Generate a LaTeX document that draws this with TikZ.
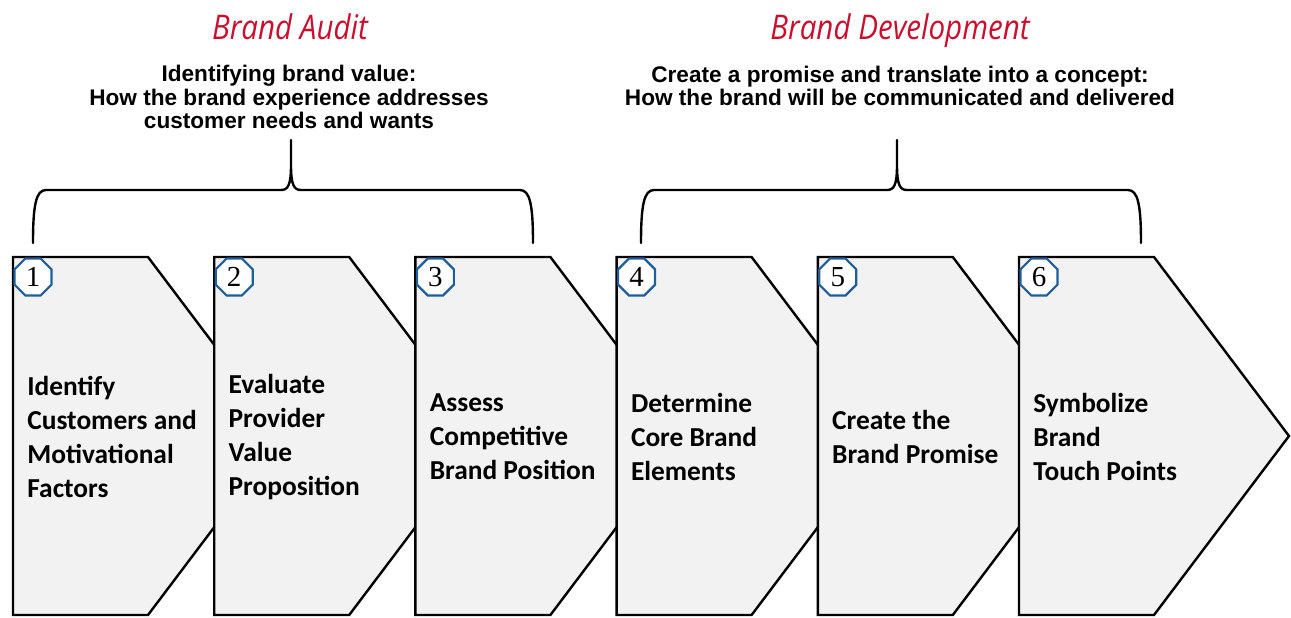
\documentclass[tikz,border=0pt]{standalone}
\usepackage{fontspec}
\setmainfont{Carlito}
\newfontfamily\phasefont[FakeStretch=0.87]{Open Sans}
\newfontfamily\notefont{Liberation Sans}
\newfontfamily\numfont{Liberation Serif}
\usepackage{tikz}
\usetikzlibrary{shapes.geometric, positioning}
\usepackage{xcolor}
\definecolor{phasered}{HTML}{C8102E}
\definecolor{badgeblue}{HTML}{1F5E99}
\definecolor{stepgray}{HTML}{F2F2F2}

\begin{document}
\begin{tikzpicture}[x=0.5pt, y=-0.5pt,
    stepshape/.style={draw=black, line width=1.2pt, fill=stepgray, line join=miter},
    badge/.style={draw=badgeblue, line width=1.1pt, fill=white, regular polygon, regular polygon sides=8,
        minimum size=20pt, inner sep=0pt, font=\numfont\fontsize{14.5}{14.5}\selectfont},
    steptext/.style={anchor=west, align=left, inner sep=0pt, font=\bfseries\fontsize{13.7}{17}\selectfont},
    phase/.style={anchor=base, text=phasered, font=\phasefont\itshape\fontsize{17}{20}\selectfont},
    phasenote/.style={align=center, font=\notefont\bfseries\fontsize{11.3}{11.8}\selectfont},
    brace/.style={line width=1.2pt, line join=round, line cap=round}]
    \useasboundingbox (0,0) rectangle (1291,617);

    % Phase titles
    \node[phase] (audit) at (290,39) {Brand Audit};
    \node[phasenote] (auditnote) at (289,97) {Identifying brand value:\\
        How the brand experience addresses\\
        customer needs and wants};
    \node[phase] (develop) at (900,39) {Brand Development};
    \node[phasenote] (developnote) at (900,86) {Create a promise and translate into a concept:\\
        How the brand will be communicated and delivered};

    % Braces over the steps
    \foreach \nm/\l/\m/\r in {audit/33/291/533, develop/641/897/1141} {
        \coordinate (\nm L) at (\l,243);
        \coordinate (\nm T) at (\m,140);
        \coordinate (\nm R) at (\r,243);
        \draw[brace] (\nm L) .. controls (\l,205) and (\l+3,190) .. (\l+13,190)
            -- (\m-10,190) .. controls (\m-3,190) and (\m,185) .. (\m,165) -- (\nm T)
            -- (\m,165) .. controls (\m,185) and (\m+3,190) .. (\m+10,190)
            -- (\r-13,190) .. controls (\r-3,190) and (\r,205) .. (\nm R);
    }

    % Steps 1 to 6
    \foreach \i/\txt in {1/{Identify\\Customers and\\Motivational\\Factors},
                         2/{Evaluate\\Provider\\Value\\Proposition},
                         3/{Assess\\Competitive\\Brand Position},
                         4/{Determine\\Core Brand\\Elements},
                         5/{Create the\\Brand Promise},
                         6/{Symbolize\\Brand\\Touch Points}} {
        \pgfmathsetmacro\L{13+201.2*(\i-1)}
        \draw[stepshape] (\L,257) -- ++(135,0) -- ++(135,179) -- ++(-135,179) -- ++(-135,0) -- cycle;
        \node[badge] (n\i) at (\L+20,277) {\i};
        \node[steptext] (s\i) at (\L+14,437) {\txt};
    }
\end{tikzpicture}
\end{document}
